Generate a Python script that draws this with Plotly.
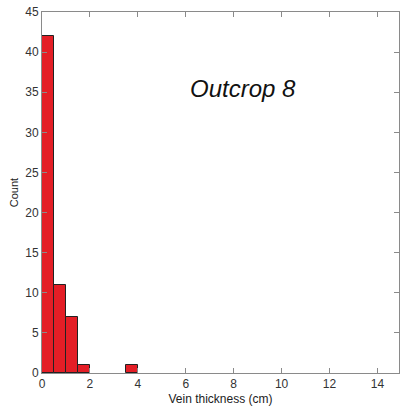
import plotly.graph_objects as go

# histogram bins (cm) and counts
bin_width = 0.5
bin_starts = [0.0, 0.5, 1.0, 1.5, 2.0, 2.5, 3.0, 3.5]
counts = [42, 11, 7, 1, 0, 0, 0, 1]

x_ticks = [0, 2, 4, 6, 8, 10, 12, 14]
y_ticks = [0, 5, 10, 15, 20, 25, 30, 35, 40, 45]

# skip empty bins so no edge line is drawn along the baseline
shown = [(s, c) for s, c in zip(bin_starts, counts) if c > 0]

fig = go.Figure(go.Bar(
    x=[s + bin_width / 2 for s, c in shown],
    y=[c for s, c in shown],
    width=bin_width,
    marker=dict(color='#e41e26', line=dict(color='#222222', width=1)),
))

font = 'Liberation Sans, Arial'
axis_common = dict(
    showline=True, linecolor='#8a8a8a', linewidth=1, mirror='ticks',
    ticks='inside', ticklen=5, tickcolor='#8a8a8a',
    showgrid=False, zeroline=False, automargin=False,
    tickfont=dict(family=font, size=12, color='#333333'),
)

fig.update_layout(
    width=401, height=409,
    margin=dict(l=42, r=2, t=12, b=36),
    paper_bgcolor='white', plot_bgcolor='white',
    showlegend=False,
    bargap=0,
    xaxis=dict(axis_common, range=[0, 14.9], tickvals=x_ticks,
               title=dict(text='Vein thickness (cm)', standoff=4,
                          font=dict(family=font, size=12, color='#222222'))),
    yaxis=dict(axis_common, range=[0, 45], tickvals=y_ticks,
               title=dict(text='Count', standoff=4,
                          font=dict(family=font, size=11, color='#222222'))),
    annotations=[dict(
        text='<i>Outcrop 8</i>', x=8.4, y=35.5, xref='x', yref='y',
        showarrow=False, font=dict(family=font, size=24, color='#111111'),
    )],
)

# drop the default page margin so the figure sits at the window's corner
fig.write_html("out.html", config={'displayModeBar': False}, post_script=(
    "document.body.style.margin='0';"
    "document.documentElement.style.overflow='hidden';"
))
